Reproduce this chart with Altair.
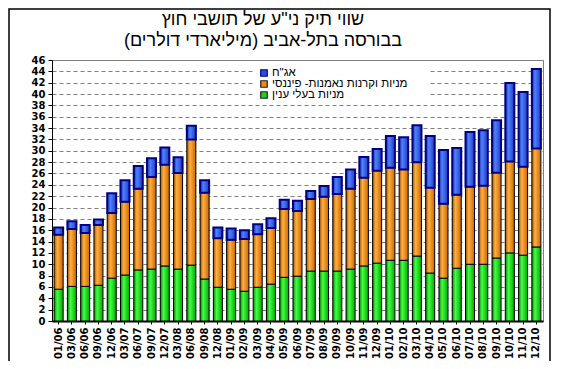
import altair as alt
import pandas as pd

RLM = "\u200f"

periods = ["01/06", "03/06", "06/06", "09/06", "12/06", "03/07", "06/07", "09/07", "12/07",
           "03/08", "06/08", "09/08", "12/08",
           "01/09", "02/09", "03/09", "04/09", "05/09", "06/09", "07/09", "08/09", "09/09",
           "10/09", "11/09", "12/09",
           "01/10", "02/10", "03/10", "04/10", "05/10", "06/10", "07/10", "08/10", "09/10",
           "10/10", "11/10", "12/10"]

# green: shares of interested parties
interested = [5.6, 6.1, 6.1, 6.3, 7.55, 8.1, 9.0, 9.15, 9.7, 9.15, 9.85, 7.4, 5.95,
              5.6, 5.25, 5.95, 6.5, 7.7, 7.9, 8.8, 8.8, 8.8, 9.15, 9.7, 10.2,
              10.7, 10.7, 11.45, 8.45, 7.55, 9.3, 10.0, 10.0, 11.1, 12.0, 11.6, 13.05]
# orange: shares and mutual funds - financial
funds = [9.6, 10.1, 9.4, 10.6, 11.5, 12.9, 14.3, 16.25, 17.85, 16.95, 22.15, 15.2, 8.65,
         8.7, 9.2, 9.35, 9.9, 12.05, 11.5, 12.7, 13.1, 13.6, 14.15, 15.55, 16.3,
         16.3, 16.0, 16.55, 15.05, 13.1, 12.95, 13.65, 13.85, 15.05, 16.1, 15.6, 17.35]
# blue: bonds
bonds = [1.3, 1.4, 1.4, 1.0, 3.45, 3.8, 4.0, 3.3, 3.05, 2.75, 2.4, 2.2, 1.9,
         2.0, 1.55, 1.75, 1.7, 1.6, 1.8, 1.4, 1.9, 3.0, 3.4, 3.65, 3.8,
         5.6, 5.7, 6.5, 9.1, 9.5, 8.25, 9.65, 9.75, 9.25, 13.85, 13.15, 14.0]

title_lines = ["שווי תיק ני\"ע של תושבי חוץ", "בבורסה בתל-אביב (מיליארדי דולרים)"]
legend_labels = ["אג\"ח", "מניות וקרנות נאמנות- פיננסי", "מניות בעלי ענין"]
legend_fills = ["#2850e0", "#f08a10", "#20d020"]
legend_strokes = ["#000080", "#222222", "#222222"]
y_ticks = list(range(0, 47, 2))

df = pd.DataFrame({"period": periods, "green": interested, "orange": funds, "blue": bonds})

W, H = 491, 261
HEB = "Liberation Sans, DejaVu Sans, sans-serif"


def grad(c0, c1, c2):
    return alt.LinearGradient(
        gradient="linear", x1=0, x2=1, y1=0, y2=0,
        stops=[alt.GradientStop(color=c0, offset=0),
               alt.GradientStop(color=c1, offset=0.35),
               alt.GradientStop(color=c2, offset=1)])


xscale = alt.Scale(paddingInner=0.32, paddingOuter=0.16)
xaxis = alt.Axis(labelAngle=270, labelFont="DejaVu Sans", labelFontWeight="bold",
                 labelFontSize=10, labelColor="black", tickSize=3, tickColor="black",
                 labelPadding=3, domainColor="black", domainWidth=2, grid=False)
yscale = alt.Scale(domain=[0, 46], nice=False, zero=True)
yaxis = alt.Axis(values=y_ticks, labelFont="DejaVu Sans", labelFontWeight="bold",
                 labelFontSize=10, labelColor="black", tickSize=4, tickColor="black",
                 labelPadding=3, domainColor="black", domainWidth=1,
                 grid=True, gridColor="#808080", gridDash=[4, 3], gridWidth=1)


def xe():
    return alt.X("period:N", sort=periods, title=None, scale=xscale, axis=xaxis)


def ye(field):
    return alt.Y(field, scale=yscale, axis=yaxis, title=None)


base = alt.Chart(df).transform_calculate(
    zero="0",
    g_top="datum.green",
    o_top="datum.green + datum.orange",
    b_top="datum.green + datum.orange + datum.blue",
)

green_bars = base.mark_bar(fill=grad("#008a00", "#44ff44", "#00a800"), stroke="black",
                           strokeWidth=1).encode(
    x=xe(), y=ye("zero:Q"), y2="g_top:Q")

orange_bars = base.mark_bar(fill=grad("#a85200", "#ffb040", "#cc6600"), stroke="black",
                            strokeWidth=1).encode(
    x=xe(), y=ye("g_top:Q"), y2="o_top:Q")

blue_bars = base.mark_bar(fill=grad("#1a2fa0", "#4f80ff", "#1c3cc0"), stroke="#000080",
                          strokeWidth=2).encode(
    x=xe(), y=ye("b_top:Q"), y2="o_top:Q")

one = pd.DataFrame({"a": [0]})

# outer frame
frame = alt.Chart(one).mark_rect(
    filled=False, stroke="black", strokeWidth=1.5).encode(
    x=alt.value(-43), x2=alt.value(498), y=alt.value(-51), y2=alt.value(306))

layers = [green_bars, orange_bars, blue_bars]

# legend box
layers.append(alt.Chart(one).mark_rect(fill="white").encode(
    x=alt.value(203), x2=alt.value(378), y=alt.value(5), y2=alt.value(41)))

row_y = [13, 24, 35]
for lab, fc, sc, yy in zip(legend_labels, legend_fills, legend_strokes, row_y):
    layers.append(alt.Chart(one).mark_square(size=42, strokeWidth=1.2, fill=fc, stroke=sc,
                                             opacity=1).encode(
        x=alt.value(212), y=alt.value(yy)))
    layers.append(alt.Chart(one).mark_text(font=HEB, fontSize=11.5, color="black",
                                           align="left", baseline="middle",
                                           text=RLM + lab + RLM).encode(
        x=alt.value(220), y=alt.value(yy)))

for line, yy in zip(title_lines, [-40, -19]):
    layers.append(alt.Chart(one).mark_text(font=HEB, fontSize=18, color="black",
                                           align="center", baseline="middle",
                                           text=RLM + line + RLM).encode(
        x=alt.value(211), y=alt.value(yy)))

layers.append(frame)

chart = alt.layer(*layers).properties(
    width=W, height=H,
    padding={"left": 44, "top": 52, "right": 11, "bottom": 40},
    autosize=alt.AutoSizeParams(type="none"),
    background="white",
).configure_view(stroke="#808080", strokeWidth=1)

chart.save("out.html", embed_options={"renderer": "svg", "actions": False})
